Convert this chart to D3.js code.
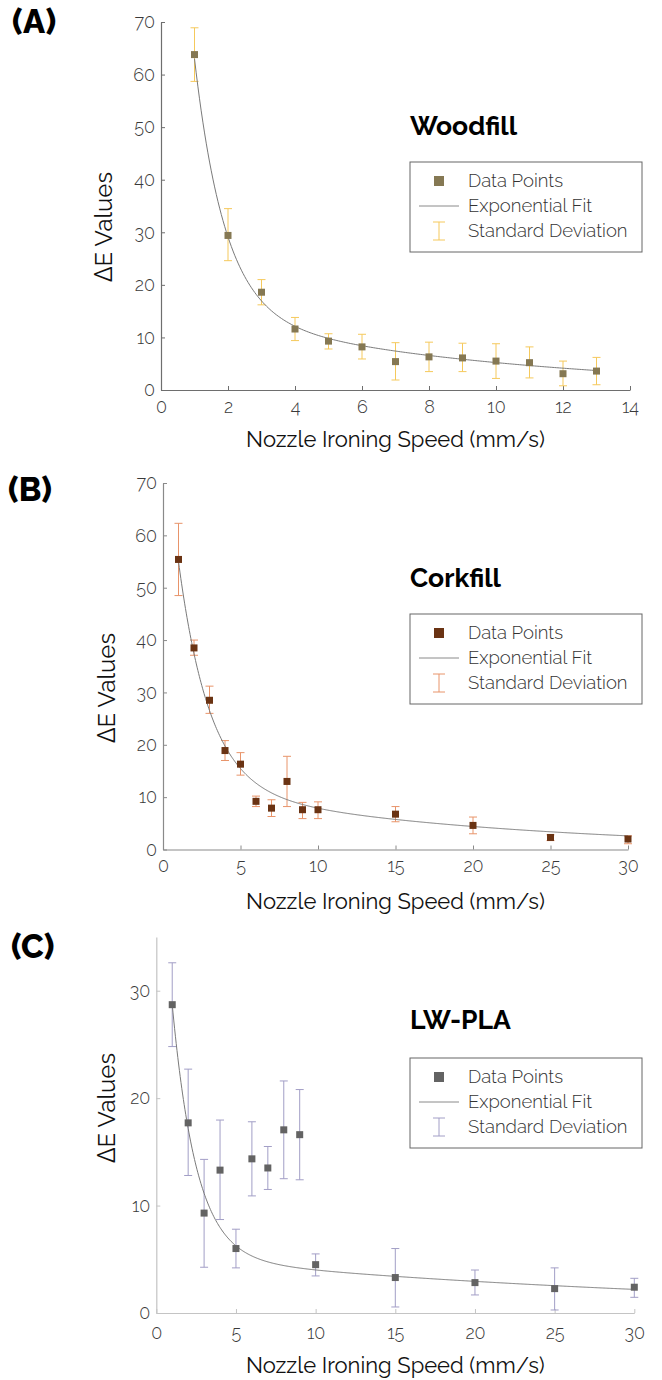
<!DOCTYPE html>
<html>
<head>
<meta charset="utf-8">
<script src="https://cdn.jsdelivr.net/npm/d3@7"></script>
<style>
body { margin: 0; background: #fff; }
text { font-family: Raleway, Lato, sans-serif; }
</style>
</head>
<body>
<svg id="chart"></svg>
<script>
// ---- data ----
var woodX  = [1, 2, 3, 4, 5, 6, 7, 8, 9, 10, 11, 12, 13];
var woodY  = [63.8, 29.4, 18.6, 11.6, 9.3, 8.2, 5.4, 6.3, 6.1, 5.5, 5.2, 3.1, 3.6];
var woodLo = [58.7, 24.6, 16.2, 9.4, 7.8, 5.9, 1.9, 3.5, 3.5, 2.2, 2.3, 0.8, 1.0];
var woodHi = [68.9, 34.5, 21.0, 13.8, 10.7, 10.6, 9.0, 9.1, 8.9, 8.8, 8.2, 5.5, 6.2];
var woodFit = [145.6, 1.1, 16.3, 0.114];   // a*exp(-b x) + c*exp(-d x)

var corkX  = [1, 2, 3, 4, 5, 6, 7, 8, 9, 10, 15, 20, 25, 30];
var corkY  = [55.4, 38.5, 28.5, 18.9, 16.3, 9.2, 7.9, 13.0, 7.6, 7.6, 6.75, 4.6, 2.3, 2.0];
var corkLo = [48.5, 37.1, 26.0, 17.0, 14.2, 8.2, 6.3, 8.2, 5.9, 5.9, 5.3, 3.0, 1.7, 1.1];
var corkHi = [62.3, 40.0, 31.2, 20.8, 18.5, 10.2, 9.5, 17.8, 9.0, 9.1, 8.2, 6.2, 2.8, 2.6];
var corkFit = [71.1, 0.5, 12.5, 0.0523];

var lwX  = [1, 2, 3, 4, 5, 6, 7, 8, 9, 10, 15, 20, 25, 30];
var lwY  = [28.7, 17.7, 9.3, 13.3, 6.0, 14.35, 13.5, 17.05, 16.6, 4.5, 3.3, 2.83, 2.27, 2.4];
var lwLo = [24.8, 12.8, 4.26, 8.7, 4.2, 10.9, 11.5, 12.5, 12.4, 3.45, 0.56, 1.68, 0.28, 1.46];
var lwHi = [32.6, 22.7, 14.3, 17.96, 7.8, 17.8, 15.5, 21.6, 20.8, 5.5, 6.0, 4.0, 4.2, 3.23];
var lwFit = [45.6, 0.66, 5.29, 0.0293];

var woodXTicks = [0, 2, 4, 6, 8, 10, 12, 14];
var corkXTicks = [0, 5, 10, 15, 20, 25, 30];
var yTicks70 = [0, 10, 20, 30, 40, 50, 60, 70];
var yTicks35 = [0, 10, 20, 30];

var legendLabels = ["Data Points", "Exponential Fit", "Standard Deviation"];
var titles = ["Woodfill", "Corkfill", "LW-PLA"];
var panelTags = ["(A)", "(B)", "(C)"];

var W = 662, H = 1380;
var svg = d3.select("#chart").attr("width", W).attr("height", H);

var panels = [
  { tag: panelTags[0], title: titles[0], x: woodX, y: woodY, lo: woodLo, hi: woodHi, fit: woodFit,
    xmax: 14, ymax: 70, xticks: woodXTicks, yticks: yTicks70,
    left: 161, right: 630, top: 22, bottom: 390,
    marker: "#857853", err: "#f5c95c", axis: "#6e6e6e",
    tagY: 33, tagX: 12, titleY: 135, legTop: 162, xLabY: 447, yLabX: 112, yLabY: 227, xPad: 10 },
  { tag: panelTags[1], title: titles[1], x: corkX, y: corkY, lo: corkLo, hi: corkHi, fit: corkFit,
    xmax: 30, ymax: 70, xticks: corkXTicks, yticks: yTicks70,
    left: 163, right: 628, top: 483, bottom: 849.5,
    marker: "#6a3313", err: "#e8946a", axis: "#8a8a8a",
    tagY: 501, tagX: 8, titleY: 587, legTop: 614, xLabY: 909, yLabX: 115, yLabY: 688, xPad: 9.5 },
  { tag: panelTags[2], title: titles[2], x: lwX, y: lwY, lo: lwLo, hi: lwHi, fit: lwFit,
    xmax: 30, ymax: 35, xticks: corkXTicks, yticks: yTicks35,
    left: 156.3, right: 634.3, top: 937, bottom: 1313,
    marker: "#636363", err: "#a29ec6", axis: "#c4c4c4",
    tagY: 958, tagX: 11, titleY: 1029, legTop: 1058, xLabY: 1373, yLabX: 115, yLabY: 1108, xPad: 13 }
];

panels.forEach(function(p) {
  var g = svg.append("g");
  var x = d3.scaleLinear().domain([0, p.xmax]).range([p.left, p.right]);
  var y = d3.scaleLinear().domain([0, p.ymax]).range([p.bottom, p.top]);

  // axes, ticks pointing inwards
  var xAxis = g.append("g").attr("transform", "translate(0," + p.bottom + ")")
    .call(d3.axisBottom(x).tickValues(p.xticks).tickSizeInner(-4).tickSizeOuter(0).tickPadding(p.xPad));
  var yAxis = g.append("g").attr("transform", "translate(" + p.left + ",0)")
    .call(d3.axisLeft(y).tickValues(p.yticks).tickSizeInner(-4).tickSizeOuter(0).tickPadding(6));
  [xAxis, yAxis].forEach(function(a) {
    a.select(".domain").attr("stroke", p.axis).attr("stroke-width", 1.2);
    a.selectAll(".tick line").attr("stroke", p.axis);
    a.selectAll(".tick text").attr("fill", "#3a3a3a").style("font-size", "18px").style("font-weight", 300)
      .style("font-family", "Raleway, Lato, sans-serif");
  });

  // error bars
  var eb = g.append("g").attr("stroke", p.err).attr("stroke-width", 1).attr("fill", "none");
  p.x.forEach(function(xv, i) {
    var cx = x(xv);
    eb.append("line").attr("x1", cx).attr("x2", cx).attr("y1", y(p.lo[i])).attr("y2", y(p.hi[i]));
    eb.append("line").attr("x1", cx - 4).attr("x2", cx + 4).attr("y1", y(p.lo[i])).attr("y2", y(p.lo[i]));
    eb.append("line").attr("x1", cx - 4).attr("x2", cx + 4).attr("y1", y(p.hi[i])).attr("y2", y(p.hi[i]));
  });

  // fitted curve
  var f = p.fit;
  var xs = d3.range(p.x[0], p.x[p.x.length - 1] + 0.001, 0.05);
  g.append("path")
    .datum(xs)
    .attr("fill", "none").attr("stroke", "#7a7a7a").attr("stroke-width", 1)
    .attr("d", d3.line()
      .x(function(d) { return x(d); })
      .y(function(d) { return y(f[0] * Math.exp(-f[1] * d) + f[2] * Math.exp(-f[3] * d)); }));

  // markers
  g.selectAll(".pt").data(p.x).enter().append("rect")
    .attr("class", "pt")
    .attr("x", function(d) { return x(d) - 3.5; })
    .attr("y", function(d, i) { return y(p.y[i]) - 3.5; })
    .attr("width", 7).attr("height", 7)
    .attr("fill", p.marker);

  // texts
  g.append("text").text(p.tag).attr("x", p.tagX).attr("y", p.tagY)
    .style("font-size", "33px").style("font-weight", 800).attr("fill", "#000");
  g.append("text").text(p.title).attr("x", 410).attr("y", p.titleY)
    .style("font-size", "26.5px").style("font-weight", 700).attr("fill", "#000");
  g.append("text").text("Nozzle Ironing Speed (mm/s)")
    .attr("x", (p.left + p.right) / 2).attr("y", p.xLabY).attr("text-anchor", "middle")
    .style("font-size", "22px").attr("fill", "#111");
  g.append("text").text("ΔE Values")
    .attr("transform", "translate(" + p.yLabX + "," + p.yLabY + ") rotate(-90)")
    .attr("text-anchor", "middle")
    .style("font-size", "24px").attr("fill", "#111");

  // legend
  var lg = g.append("g").attr("transform", "translate(410," + p.legTop + ")");
  lg.append("rect").attr("width", 232).attr("height", 90)
    .attr("fill", "#fff").attr("stroke", "#666").attr("stroke-width", 1);
  lg.append("rect").attr("x", 29 - 5).attr("y", 19 - 5).attr("width", 10).attr("height", 10).attr("fill", p.marker);
  lg.append("line").attr("x1", 9).attr("x2", 49).attr("y1", 44).attr("y2", 44)
    .attr("stroke", "#8a8a8a").attr("stroke-width", 1);
  lg.append("line").attr("x1", 29).attr("x2", 29).attr("y1", 60).attr("y2", 78).attr("stroke", p.err);
  lg.append("line").attr("x1", 23).attr("x2", 35).attr("y1", 60).attr("y2", 60).attr("stroke", p.err);
  lg.append("line").attr("x1", 23).attr("x2", 35).attr("y1", 78).attr("y2", 78).attr("stroke", p.err);
  lg.selectAll(".lt").data(legendLabels).enter().append("text")
    .attr("class", "lt")
    .attr("x", 58).attr("y", function(d, i) { return 19 + i * 25; })
    .attr("dy", "0.35em")
    .text(function(d) { return d; })
    .style("font-size", "18.5px").style("font-weight", 300).attr("fill", "#333");
});
</script>
</body>
</html>
